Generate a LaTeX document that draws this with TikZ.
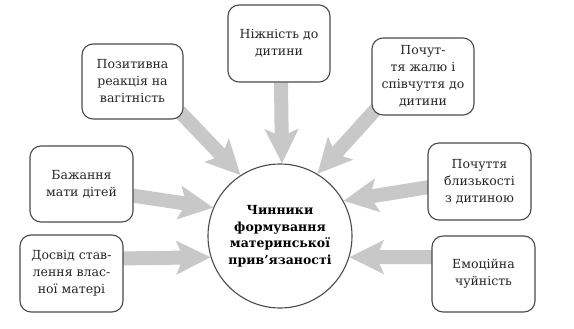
\documentclass[tikz,border=0pt]{standalone}
\usepackage{fontspec}
\setmainfont{DejaVu Serif}
\usetikzlibrary{arrows.meta,backgrounds}
\definecolor{arrowgray}{HTML}{C8C8C8}
\definecolor{edgegray}{HTML}{4A4A4A}
\tikzset{
  box/.style={draw=edgegray, line width=1.1pt, rounded corners=11pt, fill=white,
    align=center, inner sep=0pt, text=black!85,
    font=\fontsize{12.5}{17}\selectfont},
  hub/.style={draw=edgegray, line width=1.1pt, circle, fill=white, minimum size=144pt,
    align=center, inner sep=0pt, font=\fontsize{12.5}{16.5}\selectfont\bfseries},
  arr/.style={draw=arrowgray, line width=14pt,
    -{Stealth[length=34pt, width=33pt, inset=7pt]}},
}
\begin{document}
\begin{tikzpicture}[x=1pt, y=-1pt]
\useasboundingbox (0,0) rectangle (574,329);
\node[hub] (c) at (280,236) {Чинники\\формування\\материнської\\прив’язаності};
\node[box, minimum width=102pt, minimum height=77pt] (b1) at (279,43.5) {Ніжність до\\дитини};
\node[box, minimum width=101pt, minimum height=75pt] (b2) at (132.5,81.5) {Позитивна\\реакція на\\вагітність};
\node[box, minimum width=102pt, minimum height=77pt] (b3) at (423,76.5) {Почут-\\тя жалю і\\співчуття до\\дитини};
\node[box, minimum width=103pt, minimum height=76pt] (b4) at (81.5,184) {Бажання\\мати дітей};
\node[box, minimum width=103pt, minimum height=77pt] (b5) at (71.5,273.5) {Досвід став-\\лення влас-\\ної матері};
\node[box, minimum width=103pt, minimum height=77pt] (b6) at (479.5,181.5) {Почуття\\близькості\\з дитиною};
\node[box, minimum width=103pt, minimum height=76pt] (b7) at (483.5,274) {Емоційна\\чуйність};
\begin{scope}[on background layer]
\draw[arr] ([xshift=2pt]b1.south) -- ([xshift=2pt]c.north);
\draw[arr] ([xshift=-4pt,yshift=8pt]b2.south east) -- (c.123);
\draw[arr] ([xshift=6pt,yshift=8pt]b3.south west) -- (c.59);
\draw[arr] ([xshift=-5pt,yshift=-11pt]b4.east) -- (c.157);
\draw[arr] ([xshift=-5pt,yshift=15pt]b5.east) -- (c.197);
\draw[arr] ([xshift=5pt,yshift=-5pt]b6.west) -- (c.29);
\draw[arr] ([xshift=5pt,yshift=17pt]b7.west) -- (c.-17);
\end{scope}
\end{tikzpicture}
\end{document}
